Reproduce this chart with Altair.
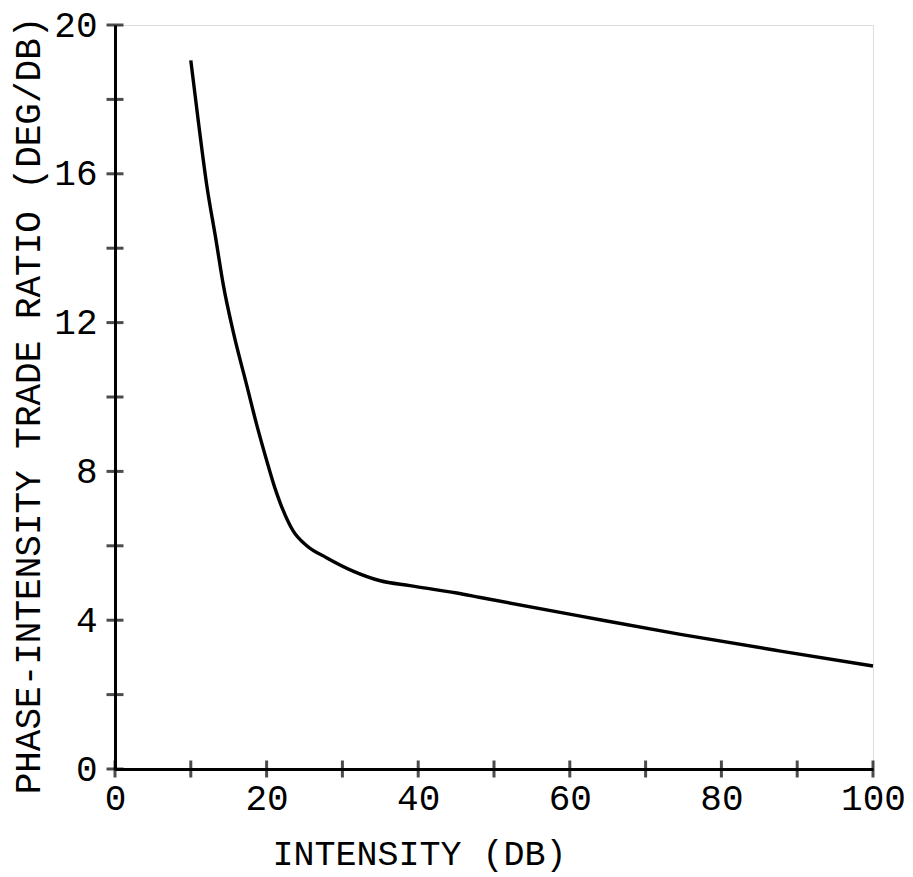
import altair as alt
import pandas as pd

# curve
intensity = [10, 11, 12.1, 13.3, 14.3, 15.6, 17.4, 18.7, 20, 21.1, 21.8, 23.5, 25.3, 27.9, 31.4, 35, 38.9, 45.1, 48.2, 61.4, 74.6, 87.8, 100]
ratio = [19.05, 17.4, 15.7, 14.25, 13.0, 11.75, 10.3, 9.25, 8.3, 7.55, 7.15, 6.4, 6.0, 5.68, 5.32, 5.06, 4.93, 4.73, 4.61, 4.11, 3.62, 3.17, 2.77]

x_ticks = [0, 10, 20, 30, 40, 50, 60, 70, 80, 90, 100]
x_labels = [0, 20, 40, 60, 80, 100]
y_ticks = [0, 2, 4, 6, 8, 10, 12, 14, 16, 18, 20]
y_labels = [0, 4, 8, 12, 16, 20]

FONT = "Liberation Mono"

curve = pd.DataFrame({"x": intensity, "y": ratio})
xt = pd.DataFrame({"x": x_ticks, "y": [0] * len(x_ticks)})
yt = pd.DataFrame({"y": y_ticks, "x": [0] * len(y_ticks)})

xscale = alt.Scale(domain=[0, 100], nice=False, zero=False)
yscale = alt.Scale(domain=[0, 20], nice=False, zero=False)

line = alt.Chart(curve).mark_line(color="black", strokeWidth=3.4, interpolate="monotone").encode(
    x=alt.X("x:Q", scale=xscale,
            axis=alt.Axis(values=x_labels, title="INTENSITY (DB)", ticks=False, labelFlush=False,
                          labelPadding=12, labelFontSize=36, labelFont=FONT, labelColor="black",
                          domainColor="black", domainWidth=3, grid=False,
                          titleFont=FONT, titleFontSize=35, titleFontWeight="normal", titleColor="black",
                          titleX=304, titleY=67, titleBaseline="top")),
    y=alt.Y("y:Q", scale=yscale,
            axis=alt.Axis(values=y_labels, title="PHASE-INTENSITY TRADE RATIO (DEG/DB)", ticks=False,
                          labelFlush=False, labelPadding=18, labelFontSize=36, labelFont=FONT,
                          labelColor="black", domainColor="black", domainWidth=3, grid=False,
                          titleFont=FONT, titleFontSize=36, titleFontWeight="normal", titleColor="black",
                          titleX=-76, titleY=380, titleBaseline="alphabetic")),
)

xtick_layer = alt.Chart(xt).mark_tick(color="black", thickness=3, size=17, orient="vertical").encode(
    x=alt.X("x:Q", scale=xscale), y=alt.Y("y:Q", scale=yscale))
ytick_layer = alt.Chart(yt).mark_tick(color="black", thickness=3, size=17, orient="horizontal").encode(
    x=alt.X("x:Q", scale=xscale), y=alt.Y("y:Q", scale=yscale))

chart = alt.layer(line, xtick_layer, ytick_layer).properties(
    width=758, height=744,
    autosize=alt.AutoSizeParams(type="none"),
    padding={"left": 107, "top": 17, "right": 32, "bottom": 106},
).configure_view(stroke=None).configure(background="white")

chart.save("out.html", embed_options={"renderer": "svg", "actions": False})
